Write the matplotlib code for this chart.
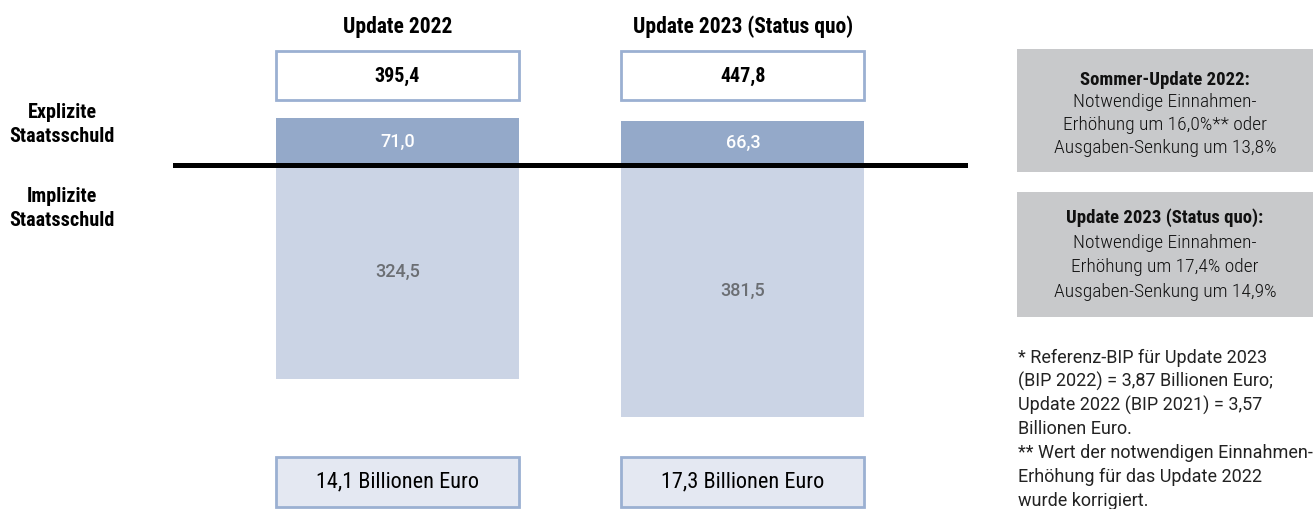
import matplotlib
matplotlib.use('Agg')
import matplotlib.pyplot as plt
import matplotlib.transforms as mtrans
from matplotlib import font_manager as fm
from matplotlib.patches import Rectangle

# ---------------- data ----------------
categories = ['Update 2022', 'Update 2023 (Status quo)']
explicit = [71.0, 66.3]
implicit = [324.5, 381.5]
explicit_labels = ['71,0', '66,3']
implicit_labels = ['324,5', '381,5']
total_labels = ['395,4', '447,8']
bottom_labels = ['14,1 Billionen Euro', '17,3 Billionen Euro']
row_labels = [['Explizite', 'Staatsschuld'], ['Implizite', 'Staatsschuld']]
box1_title = 'Sommer-Update 2022:'
box1_lines = ['Notwendige Einnahmen-', 'Erhöhung um 16,0%** oder', 'Ausgaben-Senkung um 13,8%']
box2_title = 'Update 2023 (Status quo):'
box2_lines = ['Notwendige Einnahmen-', 'Erhöhung um 17,4% oder', 'Ausgaben-Senkung um 14,9%']
footnote_lines = ['* Referenz-BIP für Update 2023',
                  '(BIP 2022) = 3,87 Billionen Euro;',
                  'Update 2022 (BIP 2021) = 3,57',
                  'Billionen Euro.',
                  '** Wert der notwendigen Einnahmen-',
                  'Erhöhung für das Update 2022',
                  'wurde korrigiert.']

# ---------------- fonts ----------------
names = {f.name for f in fm.fontManager.ttflist}

def pick(options):
    for o in options:
        if o in names:
            return o
    return 'DejaVu Sans'

COND = pick(['Roboto Condensed', 'Archivo Narrow', 'Barlow Semi Condensed', 'Liberation Sans Narrow'])
REG = pick(['Roboto', 'Lato', 'Open Sans'])

W, H = 1313, 509
fig = plt.figure(figsize=(W / 100, H / 100), dpi=100)
ax = fig.add_axes([0, 0, 1, 1])
ax.axis('off')

# scale: pixels per unit and zero line position
k = 0.66
zero_px = 165
ax.set_ylim(-(H - zero_px) / k, zero_px / k)
c0, step = 397.5, 345.5
ax.set_xlim(-c0 / step, (W - c0) / step)

x = list(range(len(categories)))
bw = 243 / step
dark = '#94a9c9'
light = '#cbd4e5'
edge = '#9bb0d2'

ax.bar(x, explicit, width=bw, color=dark, zorder=1)
ax.bar(x, [-v for v in implicit], width=bw, color=light, zorder=1)
ax.axhline(0, xmin=175 / W, xmax=965 / W, color='black', lw=3.6, zorder=3)

for xi, e, i, el, il in zip(x, explicit, implicit, explicit_labels, implicit_labels):
    ax.text(xi, e / 2, el, ha='center', va='center', color='white',
            fontsize=13, family=REG, weight='medium', zorder=4)
    ax.text(xi, -i / 2, il, ha='center', va='center', color='#6b6e73',
            fontsize=13, family=REG, weight='medium', zorder=4)

trans = mtrans.blended_transform_factory(ax.transData, fig.transFigure)

def fy(px):
    return 1 - px / H

for xi, cat, tl, bl in zip(x, categories, total_labels, bottom_labels):
    ax.text(xi, fy(27), cat, transform=trans, ha='center', va='center',
            fontsize=15.5, family=COND, weight='bold')
    ax.add_patch(Rectangle((xi - bw / 2, fy(100)), bw, 49 / H, transform=trans,
                           fc='white', ec=edge, lw=2, clip_on=False))
    ax.text(xi, fy(76), tl, transform=trans, ha='center', va='center',
            fontsize=14.5, family=COND, weight='bold')
    ax.add_patch(Rectangle((xi - bw / 2, fy(507)), bw, 50 / H, transform=trans,
                           fc='#e4e8f2', ec=edge, lw=2, clip_on=False))
    ax.text(xi, fy(482), bl, transform=trans, ha='center', va='center',
            fontsize=16, family=COND, weight='normal')

# row labels
for pair, ys in zip(row_labels, [(113, 137), (196, 220)]):
    for ln, yy in zip(pair, ys):
        fig.text(62 / W, fy(yy), ln, ha='center', va='center', fontsize=14.5,
                 family=COND, weight='bold')

# grey info boxes
gx0, gx1 = 1017, 1313
for (top, bot), title, lines, ys in [((49, 172), box1_title, box1_lines, [80, 102, 125, 148]),
                                     ((192, 317), box2_title, box2_lines, [218, 243, 267, 292])]:
    fig.patches.append(Rectangle((gx0 / W, fy(bot)), (gx1 - gx0) / W, (bot - top) / H,
                                 transform=fig.transFigure, fc='#c8c9cb', ec='none'))
    cx = (gx0 + gx1) / 2 / W
    fig.text(cx, fy(ys[0]), title, ha='center', va='center', fontsize=13.5,
             family=COND, weight='bold', color='#111111')
    for ln, yy in zip(lines, ys[1:]):
        fig.text(cx, fy(yy), ln, ha='center', va='center', fontsize=14,
                 family=COND, weight='light', color='#111111')

# footnotes
for idx, ln in enumerate(footnote_lines):
    fig.text(1018 / W, fy(358 + idx * 23.8), ln, ha='left', va='center', fontsize=13,
             family=REG, weight='normal', color='#222222')

fig.savefig('out.png', dpi=100)
